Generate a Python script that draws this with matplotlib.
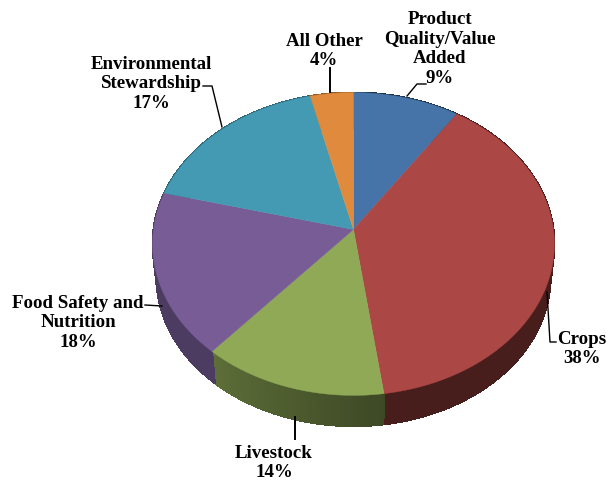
import numpy as np
import matplotlib
matplotlib.use("Agg")
import matplotlib.pyplot as plt

categories = ["Product\nQuality/Value\nAdded", "Crops", "Livestock",
              "Food Safety and\nNutrition", "Environmental\nStewardship", "All Other"]
shares = [9.4, 38.4, 13.6, 17.6, 17.2, 3.8]
colors = ["#4674a8", "#ab4744", "#8fa956", "#775c95", "#439ab2", "#e08a3e"]

label_pos = [(440, 49), (582, 349), (274, 463), (78, 323), (151, 84), (324, 51)]
leaders = [([407, 417, 426], [97, 85, 85], 1.0),
           ([547, 550, 556], [293, 343, 343], 1.0),
           ([295, 295], [418, 440], 1.4),
           ([145, 162], [306, 307], 1.0),
           ([203, 212, 222], [87, 87, 128], 1.0),
           ([330, 330], [69, 93], 1.4)]

cx, cy = 353.5, 230.5
rx, ry = 200, 150
persist = -0.0957
depth = 34


def project(theta, scale=1.0, drop=0):
    # circle -> screen, theta clockwise from the top, near edge bigger
    u = np.sin(theta)
    v = -np.cos(theta)
    den = 1 + persist * v
    return cx + scale * rx * u / den, cy + drop + scale * ry * v / den


def shade(color, k):
    rgb = np.array(matplotlib.colors.to_rgb(color))
    return tuple(rgb * k)


fig = plt.figure(figsize=(6.08, 4.81), dpi=100)
ax = fig.add_axes([0, 0, 1, 1])
ax.set_xlim(0, 608)
ax.set_ylim(481, 0)
ax.axis("off")

edges = np.deg2rad(np.cumsum([0] + shares) * 3.6)

# side wall first, top faces go over it
for i, color in enumerate(colors):
    steps = np.linspace(edges[i], edges[i + 1], 60)
    for a, b in zip(steps[:-1], steps[1:]):
        k = np.interp(np.rad2deg(a), [170, 220], [0.42, 0.65])
        xa, ya = project(np.array([a, b]))
        xb, yb = project(np.array([b, a]), 0.98, depth)
        ax.fill(np.r_[xa, xb], np.r_[ya, yb], color=shade(color, k), lw=0.8,
                antialiased=False)

for i, color in enumerate(colors):
    steps = np.linspace(edges[i], edges[i + 1], 100)
    x, y = project(steps)
    ax.fill(np.r_[cx, x], np.r_[cy, y], color=color, lw=0.3)

for name, share, (x, y) in zip(categories, shares, label_pos):
    ax.text(x, y, f"{name}\n{round(share)}%", ha="center", va="center",
            family="Liberation Serif", weight="bold", fontsize=13.6,
            linespacing=1.18, color="black")

for xs, ys, lw in leaders:
    ax.plot(xs, ys, color="black", lw=lw)

fig.savefig("out.png", dpi=100)
